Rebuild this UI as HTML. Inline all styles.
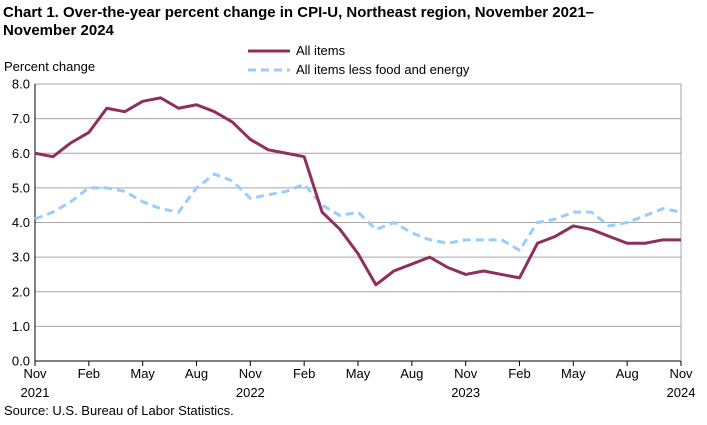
<!DOCTYPE html>
<html><head><meta charset="utf-8"><style>
body{margin:0;background:#fff;font-family:"Liberation Sans",Arial,sans-serif;}
svg text{font-family:"Liberation Sans",Arial,sans-serif;}
</style></head><body>
<svg id="c" width="707" height="420" xmlns="http://www.w3.org/2000/svg">
<text x="3" y="17" font-size="15" font-weight="bold" fill="#000">Chart 1. Over-the-year percent change in CPI-U, Northeast region, November 2021–</text>
<text x="3" y="35" font-size="15" font-weight="bold" fill="#000">November 2024</text>
<text x="4" y="71" font-size="13">Percent change</text>
<g>
<line x1="248" y1="51" x2="290" y2="51" stroke="#8e2f5e" stroke-width="3"/>
<text x="296" y="55" font-size="13">All items</text>
<line x1="248" y1="70" x2="290" y2="70" stroke="#99ccff" stroke-width="3" stroke-dasharray="8,5"/>
<text x="296" y="74" font-size="13">All items less food and energy</text>
</g>
<g id="grid"></g><g id="series"></g>
<text x="4" y="415" font-size="13">Source: U.S. Bureau of Labor Statistics.</text>
</svg>
<script>
const months=["Nov","Dec","Jan","Feb","Mar","Apr","May","Jun","Jul","Aug","Sep","Oct","Nov","Dec","Jan","Feb","Mar","Apr","May","Jun","Jul","Aug","Sep","Oct","Nov","Dec","Jan","Feb","Mar","Apr","May","Jun","Jul","Aug","Sep","Oct","Nov"];
const allItems=[6.0,5.9,6.3,6.6,7.3,7.2,7.5,7.6,7.3,7.4,7.2,6.9,6.4,6.1,6.0,5.9,4.3,3.8,3.1,2.2,2.6,2.8,3.0,2.7,2.5,2.6,2.5,2.4,3.4,3.6,3.9,3.8,3.6,3.4,3.4,3.5,3.5];
const core=[4.1,4.3,4.6,5.0,5.0,4.9,4.6,4.4,4.3,5.0,5.4,5.2,4.7,4.8,4.9,5.1,4.5,4.2,4.3,3.8,4.0,3.7,3.5,3.4,3.5,3.5,3.5,3.2,4.0,4.1,4.3,4.3,3.9,4.0,4.2,4.4,4.3];
const yTicks=[0,1,2,3,4,5,6,7,8];
const xTickIdx=[0,3,6,9,12,15,18,21,24,27,30,33,36];
const xTickLabels=["Nov","Feb","May","Aug","Nov","Feb","May","Aug","Nov","Feb","May","Aug","Nov"];
const xYearLabels=["2021","","","","2022","","","","2023","","","","2024"];
const L=35,R=681,T=84,B=361,NS="http://www.w3.org/2000/svg";
const x=i=>L+(R-L)*i/(months.length-1);
const y=v=>B-(B-T)*v/8;
const g=document.getElementById('grid'),s=document.getElementById('series');
function mk(tag,a,p){const e=document.createElementNS(NS,tag);for(const k in a)e.setAttribute(k,a[k]);p.appendChild(e);return e;}
yTicks.forEach(v=>{
 const ln=mk('line',{x1:L,x2:R,y1:y(v),y2:y(v),stroke:v===0?'#000':'#a6a6a6','stroke-width':1},g);
 
 
 const t=mk('text',{x:L-5,y:y(v)+4.5,'font-size':13,'text-anchor':'end'},g);t.textContent=v.toFixed(1);
 
 
});
const ax=mk('line',{x1:L,x2:L,y1:T,y2:B,stroke:'#000'},g);


const rb=mk('line',{x1:R,x2:R,y1:T,y2:B,stroke:'#a6a6a6'},g);


xTickIdx.forEach((i,k)=>{
 const tk=mk('line',{x1:x(i),x2:x(i),y1:B,y2:B+5,stroke:'#000'},g);
 
 
 const t=mk('text',{x:x(i),y:B+17,'font-size':13,'text-anchor':'middle'},g);t.textContent=xTickLabels[k];
 
 
 if(xYearLabels[k]){const t2=mk('text',{x:x(i),y:B+36,'font-size':13,'text-anchor':'middle'},g);t2.textContent=xYearLabels[k];
 
 }
});
function line(d,st,dash,name){
 const p=mk('polyline',{points:d.map((v,i)=>x(i)+','+y(v)).join(' '),fill:'none',stroke:st,'stroke-width':3,'stroke-linejoin':'round'},s);
 if(dash)p.setAttribute('stroke-dasharray',dash);
 
 
}
line(core,'#99ccff','8,5','core-line');
line(allItems,'#8e2f5e',null,'all-items-line');
</script>
</body></html>
